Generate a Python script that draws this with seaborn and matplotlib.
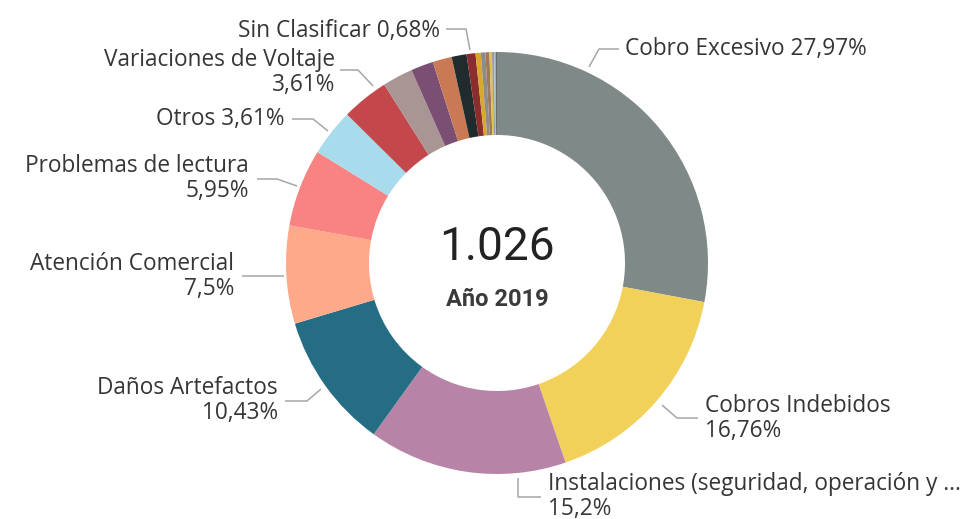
import matplotlib
matplotlib.use("Agg")
import matplotlib.pyplot as plt
import seaborn as sns

# categorias y porcentajes (sentido horario desde las 12)
categorias = ["Cobro Excesivo", "Cobros Indebidos", "Instalaciones (seguridad, operación y ...",
              "Daños Artefactos", "Atención Comercial", "Problemas de lectura", "Otros",
              "Variaciones de Voltaje", "Cat 9", "Cat 10", "Cat 11", "Cat 12",
              "Sin Clasificar", "Cat 14", "Cat 15", "Cat 16", "Cat 17", "Cat 18", "Cat 19", "Cat 20"]
porcentajes = [27.97, 16.76, 15.2, 10.43, 7.5, 5.95, 3.61, 3.61, 2.33, 1.72, 1.47, 1.14,
               0.68, 0.40, 0.35, 0.30, 0.20, 0.15, 0.12, 0.11]
colores = ["#7f8987", "#f2d15b", "#b784a7", "#256d84", "#fda98a", "#f98382", "#a8dcec",
           "#c4474b", "#a99594", "#7b4e74", "#c97a55", "#1f2b2d", "#8b2c2e", "#d8a82a",
           "#8c8c8c", "#a0785a", "#e0c050", "#9a9a9a", "#a0c4d0", "#6a6a6a"]
total = "1.026"
anio = "Año 2019"

sns.set_theme(style="white")
plt.rcParams["font.family"] = ["Open Sans", "DejaVu Sans"]

W, H = 980, 519
fig = plt.figure(figsize=(W / 100, H / 100), dpi=100)
ax = fig.add_axes([0, 0, 1, 1])

cx, cy, R, r = 497, 263, 211, 128
ax.pie(porcentajes, colors=colores, startangle=90, counterclock=False,
       radius=R, center=(cx, H - cy),
       wedgeprops=dict(width=R - r, edgecolor="none", linewidth=0))
ax.set_xlim(0, W)
ax.set_ylim(0, H)
ax.set_aspect("equal")
ax.axis("off")


def fmt(v):
    s = f"{v:.2f}".rstrip("0").rstrip(".")
    return s.replace(".", ",") + "%"


txt_color = "#363636"
line_color = "#a6a6a6"
fs = 16.3

# (indice, texto en una linea?, posicion texto, alineacion, linea guia)
etiquetas = [
    (12, True, (440, 28), "right", [(446, 29), (466, 29), (470, 50)]),
    (0, True, (625, 47), "left", [(619, 49), (599, 49), (589, 67)]),
    (7, False, (335, 57), "right", [(340, 70), (358, 70), (373, 86)]),
    (6, True, (284, 117), "right", [(292, 119), (313, 119), (328, 131)]),
    (5, False, (249, 163), "right", [(257, 179), (277, 179), (297, 186)]),
    (4, False, (234, 262), "right", [(242, 276), (284, 276)]),
    (3, False, (278, 385), "right", [(285, 401), (307, 401), (321, 389)]),
    (1, False, (705, 403), "left", [(662, 405), (677, 418), (698, 418)]),
    (2, False, (548, 482), "left", [(518, 478), (518, 497), (541, 497)]),
]

for i, una_linea, (tx, ty), ha, guia in etiquetas:
    xs = [p[0] for p in guia]
    ys = [H - p[1] for p in guia]
    ax.plot(xs, ys, color=line_color, lw=1.1, solid_capstyle="butt")
    base = H - ty - 8.5
    if una_linea:
        ax.text(tx, base, f"{categorias[i]} {fmt(porcentajes[i])}", ha=ha, va="baseline",
                fontsize=fs, color=txt_color)
    else:
        ax.text(tx, base, categorias[i], ha=ha, va="baseline", fontsize=fs, color=txt_color)
        ax.text(tx, base - 25, fmt(porcentajes[i]), ha=ha, va="baseline", fontsize=fs,
                color=txt_color)

ax.text(cx, H - 247, total, ha="center", va="center", fontsize=33, color="#222222",
        family=["Roboto", "DejaVu Sans"])
ax.text(cx, H - 299, anio, ha="center", va="center", fontsize=17, fontweight="bold",
        color="#3a3a3a", family=["Roboto", "DejaVu Sans"])

fig.savefig("out.png", dpi=100)
